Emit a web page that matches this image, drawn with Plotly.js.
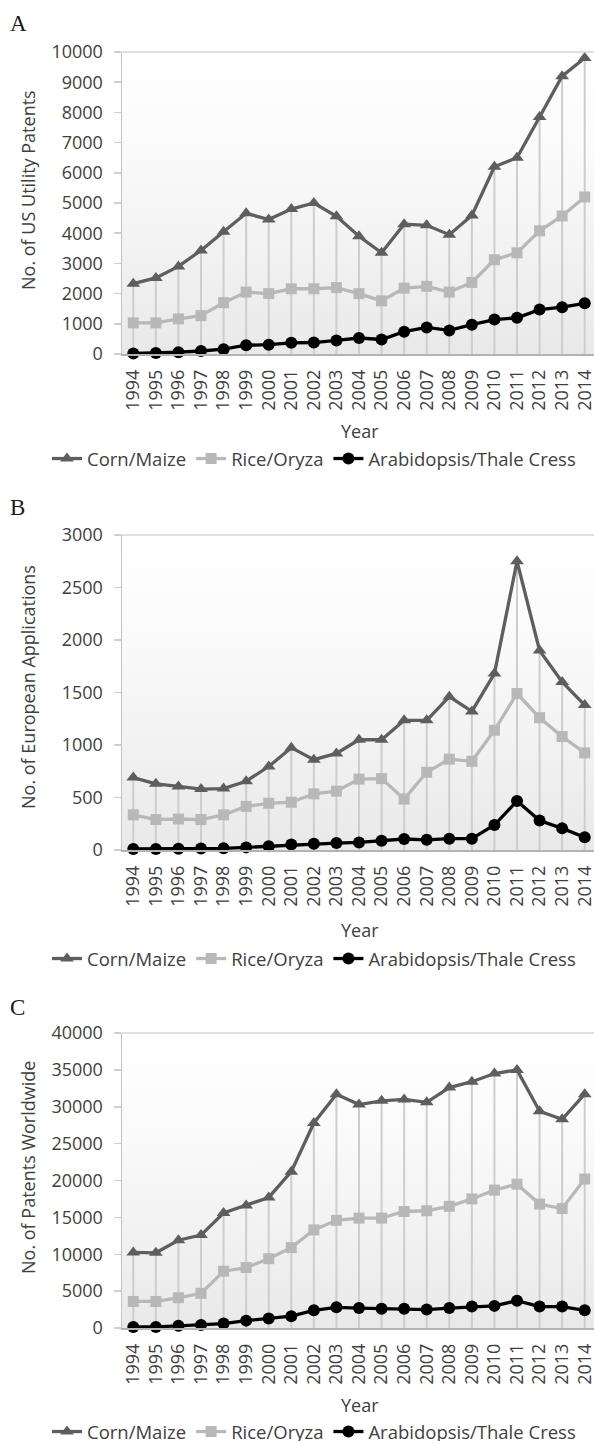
<!DOCTYPE html>
<html>
<head>
<meta charset="utf-8">
<script src="https://cdn.plot.ly/plotly-3.0.1.min.js"></script>
<style>
html,body{margin:0;padding:0;background:#fff;overflow:hidden;width:594px;height:1441px;}
.pan{position:absolute;left:0;width:612px;}
</style>
</head>
<body>
<div id="pA" class="pan" style="top:0px;height:515px;"></div>
<div id="pB" class="pan" style="top:475px;height:540px;"></div>
<div id="pC" class="pan" style="top:975px;height:506px;"></div>
<script>
// ---- data ----
const years = ["1994","1995","1996","1997","1998","1999","2000","2001","2002","2003","2004","2005","2006","2007","2008","2009","2010","2011","2012","2013","2014"];
const seriesNames = ["Corn/Maize","Rice/Oryza","Arabidopsis/Thale Cress"];

const usCorn = [2330,2520,2900,3430,4050,4660,4450,4800,5000,4560,3900,3350,4300,4260,3950,4590,6200,6500,7850,9200,9800];
const usRice = [1030,1030,1160,1270,1700,2050,2000,2160,2160,2200,2000,1760,2180,2240,2050,2370,3120,3350,4080,4570,5200];
const usArab = [20,30,60,100,160,290,310,370,380,450,530,480,740,880,780,970,1140,1200,1470,1550,1680];

const euCorn = [690,630,605,580,585,655,795,975,860,920,1050,1050,1235,1235,1460,1320,1680,2750,1900,1600,1380];
const euRice = [335,290,295,290,335,415,445,455,535,560,675,680,485,740,865,845,1140,1490,1260,1080,925];
const euArab = [10,10,12,14,16,25,35,52,60,66,72,89,105,97,108,108,238,467,280,206,121];

const wwCorn = [10250,10200,11900,12600,15600,16600,17700,21200,27800,31700,30300,30800,31000,30600,32600,33400,34500,35000,29400,28300,31700];
const wwRice = [3600,3600,4100,4700,7700,8200,9400,10900,13300,14600,14900,14900,15800,15900,16500,17500,18700,19500,16800,16200,20200];
const wwArab = [150,150,300,400,600,1000,1300,1600,2400,2800,2700,2600,2600,2500,2700,2900,3000,3700,2900,2900,2400];

const panelLabels = ["A","B","C"];
const yTitles = ["No. of US Utility Patents","No. of European Applications","No. of Patents Worldwide"];
const xTitle = "Year";
const yRanges = [[0,10000],[0,3000],[0,40000]];
const yDticks = [1000,500,5000];

// ---- styling ----
const FONT = "Open Sans, Noto Sans, sans-serif";
const TXT = "#404040";
const W = 612;
const styles = [
  {color:"#5e5e5e", symbol:"triangle-up", size:12},
  {color:"#b8b8b8", symbol:"square", size:11},
  {color:"#000000", symbol:"circle", size:12}
];
const gradSvg = 'data:image/svg+xml;utf8,' + encodeURIComponent(
  '<svg xmlns="http://www.w3.org/2000/svg" width="100" height="100" preserveAspectRatio="none">' +
  '<defs><linearGradient id="g" x1="0" y1="0" x2="0" y2="1">' +
  '<stop offset="0" stop-color="#ffffff"/><stop offset="0.35" stop-color="#fafafa"/><stop offset="1" stop-color="#e9e9e9"/></linearGradient></defs>' +
  '<rect width="100" height="100" fill="url(#g)"/></svg>');

// panel geometry (local px); divs are taller than needed so the legend never pushes the margins
const panels = [
  {id:"pA", h:515, t:52, b:161, data:[usCorn,usRice,usArab], lab:[18,23], yt:[28,190], xt:[360,431], leg:459},
  {id:"pB", h:540, t:60, b:165, data:[euCorn,euRice,euArab], lab:[17,32], yt:[28,212], xt:[360,455], leg:484},
  {id:"pC", h:506, t:58, b:153, data:[wwCorn,wwRice,wwArab], lab:[17,32], yt:[28,193], xt:[360,430], leg:457}
];
const L = 122, R = 16;

panels.forEach((p, i) => {
  const pw = W - L - R, ph = p.h - p.t - p.b;
  const px = x => (x - L) / pw;
  const py = y => 1 - (y - p.t) / ph;

  // drop lines from axis to the highest point of each year
  const dx = [], dy = [];
  years.forEach((yr, k) => {
    const top = Math.max(p.data[0][k], p.data[1][k], p.data[2][k]);
    dx.push(yr, yr, null); dy.push(0, top, null);
  });
  const traces = [{
    x: dx, y: dy, mode: "lines", type: "scatter",
    line: {color: "#cdcdcd", width: 2}, showlegend: false, hoverinfo: "skip"
  }];
  p.data.forEach((vals, s) => {
    traces.push({
      x: years, y: vals, name: seriesNames[s], type: "scatter", mode: "lines+markers",
      line: {color: styles[s].color, width: 3.3},
      marker: {color: styles[s].color, symbol: styles[s].symbol, size: styles[s].size},
      cliponaxis: false
    });
  });

  const layout = {
    width: W, height: p.h,
    margin: {l: L, r: R, t: p.t, b: p.b, pad: 0},
    paper_bgcolor: "rgba(0,0,0,0)", plot_bgcolor: "rgba(0,0,0,0)",
    font: {family: FONT, size: 18, color: TXT},
    showlegend: true,
    legend: {orientation: "h", x: px(47), xanchor: "left", y: py(p.leg), yanchor: "middle",
             font: {family: FONT, size: 18.5, color: TXT}, bgcolor: "rgba(0,0,0,0)", itemwidth: 30,
             traceorder: "normal"},
    xaxis: {type: "category", range: [-0.5, years.length - 0.5], tickmode: "array",
            tickvals: years, ticktext: years, showgrid: false, zeroline: false, showline: true,
            linecolor: "#b3b3b3", linewidth: 1.5, ticks: "", tickangle: -90,
            tickfont: {family: FONT, size: 18, color: TXT}, ticklabelstandoff: 7, fixedrange: true},
    yaxis: {range: yRanges[i], dtick: yDticks[i], tick0: 0, tickformat: "d", exponentformat: "none",
            showgrid: false, zeroline: false,
            showline: true, linecolor: "#c3c3c3", linewidth: 1.5, ticks: "outside", ticklen: 7,
            tickcolor: "#cfcfcf", tickwidth: 1.5, tickfont: {family: FONT, size: 18, color: TXT},
            ticklabelstandoff: 7, fixedrange: true},
    images: [{source: gradSvg, xref: "paper", yref: "paper", x: 0, y: 1, sizex: 1, sizey: 1,
              sizing: "stretch", layer: "below", xanchor: "left", yanchor: "top"}],
    shapes: [{type: "line", xref: "paper", yref: "paper", x0: 0, x1: 1, y0: 1, y1: 1,
              line: {color: "#d4d4d4", width: 1.5}}],
    annotations: [
      {text: panelLabels[i], xref: "paper", yref: "paper", x: px(p.lab[0]), y: py(p.lab[1]),
       xanchor: "center", yanchor: "middle", showarrow: false,
       font: {family: "Liberation Serif, Times New Roman, serif", size: 23, color: "#1a1a1a"}},
      {text: yTitles[i], xref: "paper", yref: "paper", x: px(p.yt[0]), y: py(p.yt[1]),
       xanchor: "center", yanchor: "middle", showarrow: false, textangle: -90,
       font: {family: FONT, size: 18, color: TXT}},
      {text: xTitle, xref: "paper", yref: "paper", x: px(p.xt[0]), y: py(p.xt[1]),
       xanchor: "center", yanchor: "middle", showarrow: false,
       font: {family: FONT, size: 18, color: TXT}}
    ]
  };
  Plotly.newPlot(p.id, traces, layout, {staticPlot: true, displayModeBar: false});
});
</script>
</body>
</html>
